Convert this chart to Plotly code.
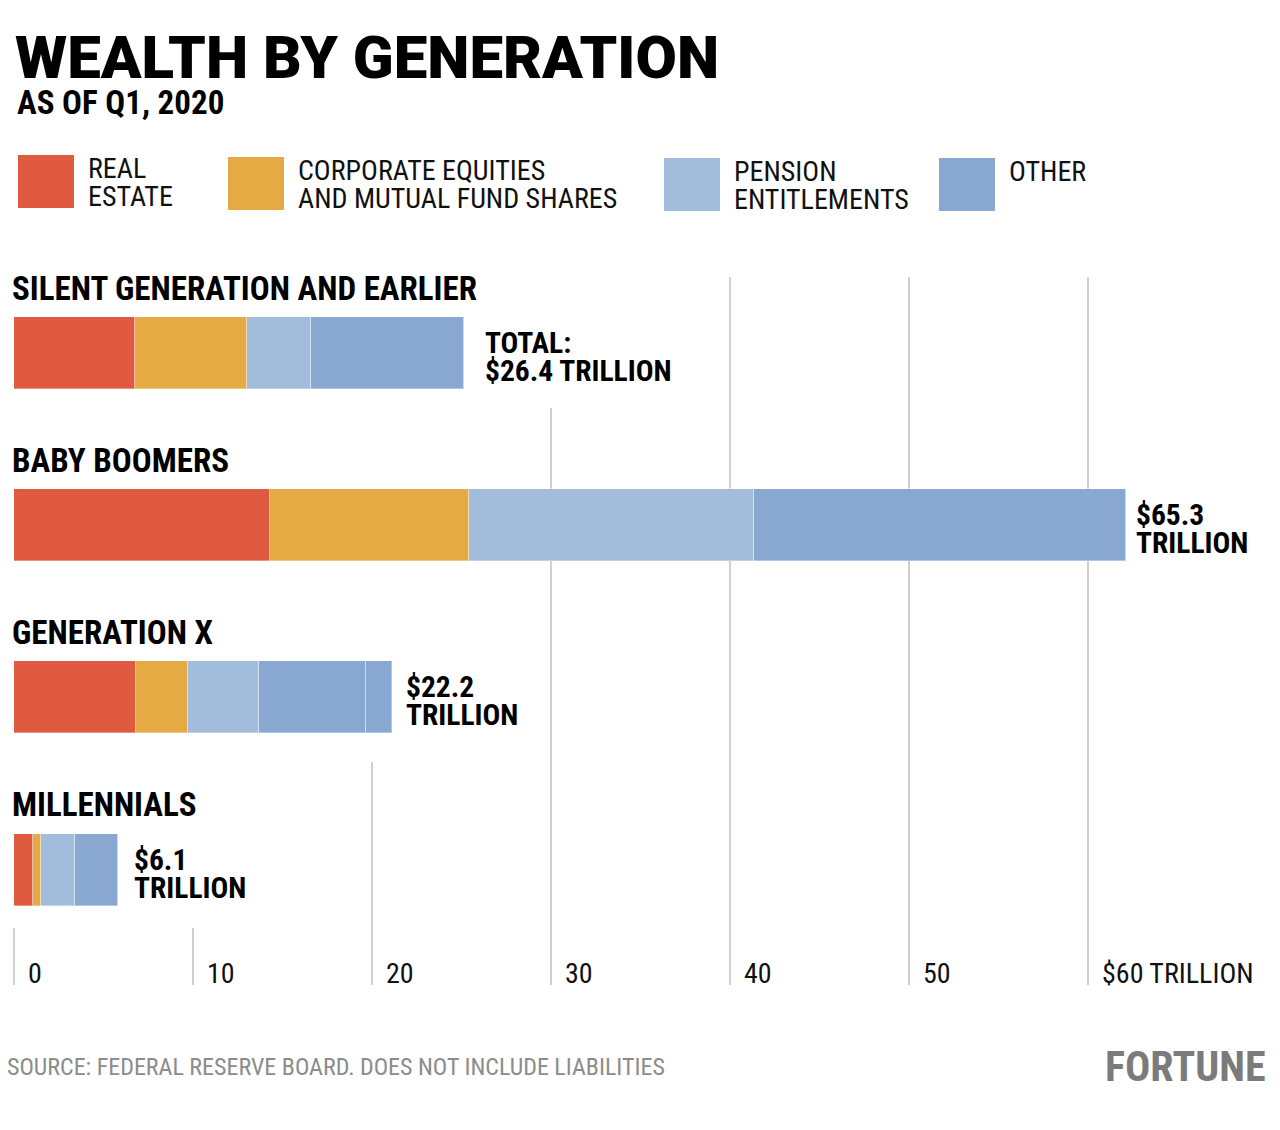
import plotly.graph_objects as go

# ---------------- data ----------------
generations = ["SILENT GENERATION AND EARLIER", "BABY BOOMERS", "GENERATION X", "MILLENNIALS"]
real_estate = [6.76, 14.30, 6.82, 1.06]
corporate_equities = [6.26, 11.12, 2.91, 0.45]
pension_entitlements = [3.58, 15.92, 3.97, 1.90]
other = [8.55, 20.78, 5.98, 2.40]
other_extra = [0.0, 0.0, 1.45, 0.0]
total_labels = [["TOTAL:", "$26.4 TRILLION"], ["$65.3", "TRILLION"],
                ["$22.2", "TRILLION"], ["$6.1", "TRILLION"]]
series_names = ["REAL ESTATE", "CORPORATE EQUITIES AND MUTUAL FUND SHARES",
                "PENSION ENTITLEMENTS", "OTHER"]
legend_lines = [["REAL", "ESTATE"], ["CORPORATE EQUITIES", "AND MUTUAL FUND SHARES"],
                ["PENSION", "ENTITLEMENTS"], ["OTHER"]]
tick_values = [0, 10, 20, 30, 40, 50, 60]
tick_labels = ["0", "10", "20", "30", "40", "50", "$60 TRILLION"]

# ---------------- styling / layout ----------------
colors = ["#E05A40", "#E6AA45", "#A2BCDB", "#88A8D1"]
W, H = 1280, 1130
OFF = 8             # page body margin compensation
PPU = 17.9          # pixels per trillion
X0 = 14             # page pixel of zero
ROW_Y = [353, 525, 697, 869.5]
BAR_W = 72
LABEL_GAP = [19, 8, 12, 14]
GRID_TOP = [928, 928, 762, 408, 277, 277, 277]
GRID_BOTTOM = 985
COND = "Liberation Sans Narrow, Roboto Condensed, DejaVu Sans Condensed, Arial Narrow, sans-serif"
EDGE = dict(color="rgba(255,255,255,0.35)", width=1)

fig = go.Figure()
series = [real_estate, corporate_equities, pension_entitlements, other]
for name, vals, col in zip(series_names, series, colors):
    fig.add_trace(go.Bar(
        y=ROW_Y, x=vals, orientation="h", width=BAR_W, name=name,
        marker=dict(color=col, line=EDGE), hoverinfo="x+name", showlegend=False))
fig.add_trace(go.Bar(
    y=ROW_Y, x=other_extra, orientation="h", width=BAR_W, name="OTHER",
    marker=dict(color=colors[3], line=EDGE), hoverinfo="x+name", showlegend=False))

shapes = []
for tv, top in zip(tick_values, GRID_TOP):
    shapes.append(dict(type="line", xref="x", yref="y", x0=tv, x1=tv, y0=top, y1=GRID_BOTTOM,
                       line=dict(color="#D0D0D0", width=2), layer="below"))

annotations = []
def px(xp):
    return (xp - OFF) / W

# title
annotations.append(dict(text="WEALTH BY GENERATION", xref="paper", yref="y", x=px(13), y=57,
                        xanchor="left", yanchor="middle", showarrow=False,
                        font=dict(family="Roboto, sans-serif", size=60, weight=900, color="#000")))
annotations.append(dict(text="AS OF Q1, 2020", xref="paper", yref="y", x=px(15), y=102,
                        xanchor="left", yanchor="middle", showarrow=False,
                        font=dict(family=COND, size=33, weight="bold", color="#000")))

# legend
sw_x = [18, 228, 664, 939]
sw_y = [155, 157, 158, 158]
for i, (lines, col) in enumerate(zip(legend_lines, colors)):
    shapes.append(dict(type="rect", xref="paper", yref="y", x0=px(sw_x[i]), x1=px(sw_x[i] + 56),
                       y0=sw_y[i], y1=sw_y[i] + 53, fillcolor=col, line=dict(width=0)))
    for j, ln in enumerate(lines):
        annotations.append(dict(text=ln, xref="paper", yref="y", x=px(sw_x[i] + 68),
                                y=sw_y[i] + 13 + 28 * j, xanchor="left", yanchor="middle",
                                showarrow=False, font=dict(family=COND, size=28, color="#111")))

# row titles and totals
for i, g in enumerate(generations):
    annotations.append(dict(text=g, xref="paper", yref="y", x=px(10), y=ROW_Y[i] - 65,
                            xanchor="left", yanchor="middle", showarrow=False,
                            font=dict(family=COND, size=33, weight="bold", color="#000")))
    total = real_estate[i] + corporate_equities[i] + pension_entitlements[i] + other[i] + other_extra[i]
    for j, ln in enumerate(total_labels[i]):
        annotations.append(dict(text=ln, xref="x", yref="y", x=total, xshift=LABEL_GAP[i],
                                y=ROW_Y[i] - 10 + 28 * j, xanchor="left", yanchor="middle",
                                showarrow=False,
                                font=dict(family=COND, size=29.5, weight="bold", color="#000")))

# axis tick labels
for tv, tl in zip(tick_values, tick_labels):
    annotations.append(dict(text=tl, xref="x", yref="y", x=tv, xshift=12, y=973,
                            xanchor="left", yanchor="middle", showarrow=False,
                            font=dict(family=COND, size=28, color="#111")))

# source & logo
annotations.append(dict(text="SOURCE: FEDERAL RESERVE BOARD. DOES NOT INCLUDE LIABILITIES",
                        xref="paper", yref="y", x=px(5), y=1067, xanchor="left", yanchor="middle",
                        showarrow=False, font=dict(family=COND, size=24, color="#8C8C8C")))
annotations.append(dict(text="FORTUNE", xref="paper", yref="y", x=px(1268), y=1066,
                        xanchor="right", yanchor="middle", showarrow=False,
                        font=dict(family=COND, size=42, weight="bold", color="#7B7B7B")))

fig.update_layout(
    width=W, height=H, margin=dict(l=0, r=0, t=0, b=0),
    paper_bgcolor="white", plot_bgcolor="white", barmode="stack", bargap=0,
    xaxis=dict(range=[-(X0 - OFF) / PPU, (W - (X0 - OFF)) / PPU], visible=False, fixedrange=True),
    yaxis=dict(range=[H + OFF, OFF], visible=False, fixedrange=True),
    shapes=shapes, annotations=annotations, showlegend=False,
)

fig.write_html("out.html")
